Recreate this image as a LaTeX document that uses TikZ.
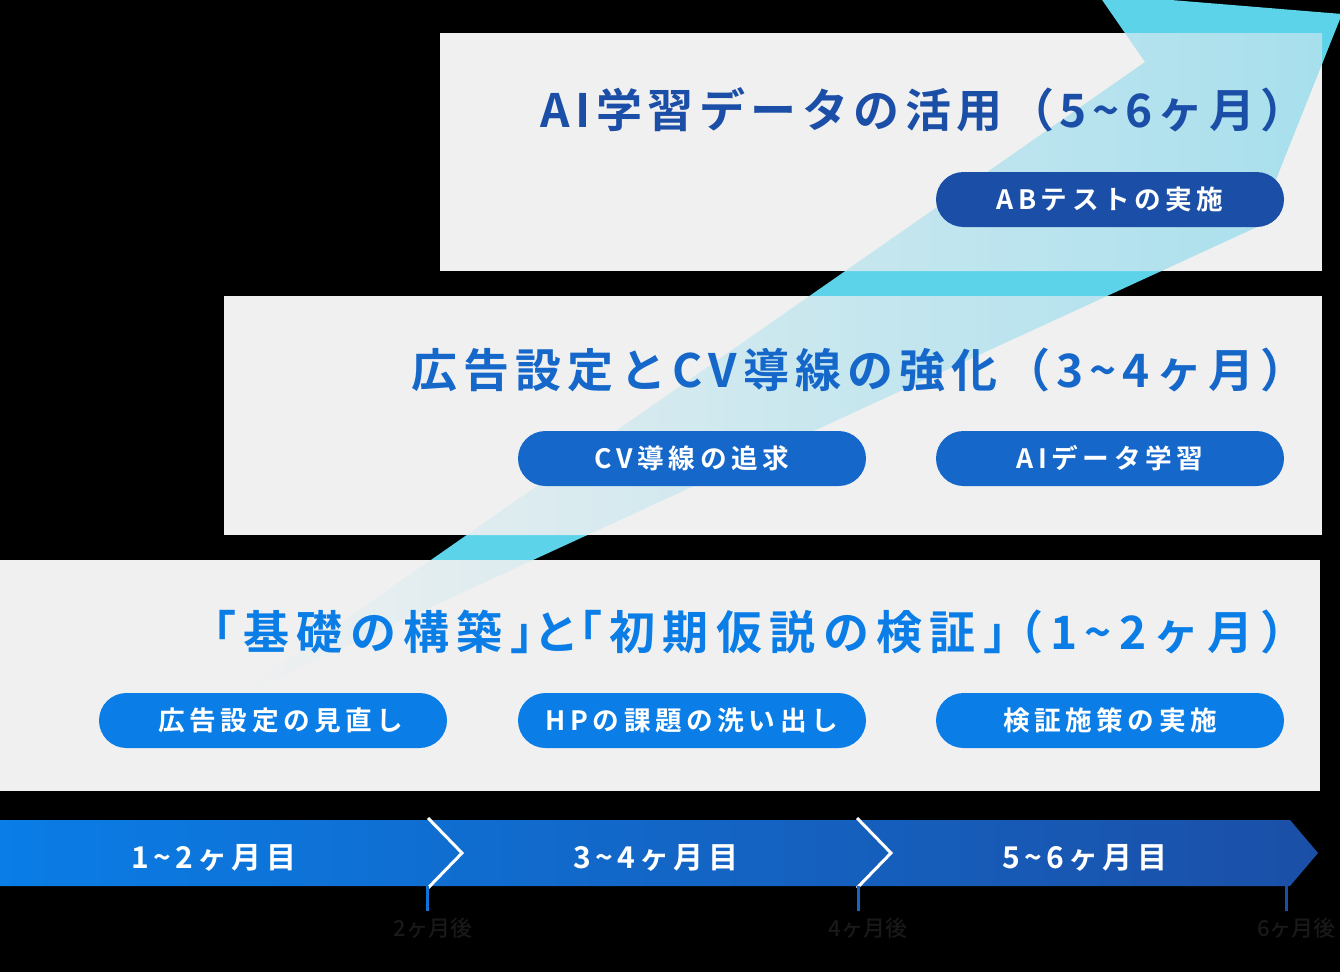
\documentclass[tikz,border=0pt]{standalone}
\usepackage{fontspec}
\setmainfont{Noto Sans CJK JP}
\newfontfamily\jpmed{Noto Sans CJK JP Medium}
\newfontfamily\jpbold{Noto Sans CJK JP Bold}
\definecolor{panel}{HTML}{F0F0F0}
\definecolor{cyanA}{HTML}{5CD3E9}
\definecolor{cyanL}{HTML}{A6DFED}
\definecolor{cyanM}{HTML}{C4E8EF}
\definecolor{blueD}{HTML}{1B4FA7}
\definecolor{blueM}{HTML}{1567CA}
\definecolor{blueB}{HTML}{0A7DE6}
\definecolor{labeldark}{HTML}{191919}
\newcommand{\tld}{\textasciitilde}
\tikzset{
  panelbox/.style={fill=panel},
  title/.style={anchor=east, inner sep=0pt, font=\jpbold\fontsize{34.5pt}{40pt}\selectfont\addfontfeatures{LetterSpace=#1}},
  pill/.style={rounded corners=20.6pt, minimum width=261pt, minimum height=41.25pt, inner sep=0pt, text=white,
    font=\jpbold\fontsize{20pt}{24pt}\selectfont\addfontfeatures{LetterSpace=17}},
  month/.style={text=white, inner sep=0pt, font=\jpbold\fontsize{22.5pt}{26pt}\selectfont\addfontfeatures{LetterSpace=14}},
  chev/.style={white, line width=2.25pt},
  tick/.style={line width=2.25pt},
  mark label/.style={text=labeldark, inner sep=0pt, font=\jpmed\fontsize{16.5pt}{20pt}\selectfont}
}
\begin{document}
\begin{tikzpicture}[x=0.75pt,y=-0.75pt]
\fill[black] (0,0) rectangle (1340,972);
\useasboundingbox (0,0) rectangle (1340,972);
\clip (0,0) rectangle (1340,972);

% growth arrow, full strength where it shows on the dark ground
\def\arrowpath{(233,698) -- (1145,62) -- (1098,-6) -- (1342,14) -- (1257,227) -- cycle}
\fill[cyanA] \arrowpath;

% three phase panels
\fill[panelbox] (440,33) rectangle (1322,271);
\fill[panelbox] (224,296) rectangle (1322,535);
\fill[panelbox] (0,560) rectangle (1320,791);

% arrow seen through the panels, fading out toward its tail
\begin{scope}
  \clip (440,33) rectangle (1322,271) (224,296) rectangle (1322,535) (0,560) rectangle (1320,791);
  \shade[left color=panel, middle color=cyanM, right color=cyanL] \arrowpath;
\end{scope}

% panel titles
\node[title=12, text=blueD] (t1) at (1307,110) {AI学習データの活用（5\tld 6ヶ月）};
\node[title=13.5, text=blueM] (t2) at (1307,370) {広告設定とCV導線の強化（3\tld 4ヶ月）};
\node[title=16, text=blueB] (t3) at (1307,632) {「基礎の構築」\kern-17.25ptと\kern-17.25pt「初期仮説の検証」\kern-24pt（1\tld 2ヶ月）};

% task pills
\node[pill, fill=blueD] (p11) at (1110,199.5) {ABテストの実施};
\node[pill, fill=blueM] (p21) at (692,458.5) {CV導線の追求};
\node[pill, fill=blueM] (p22) at (1110,458.5) {AIデータ学習};
\node[pill, fill=blueB] (p31) at (273,720.5) {\kern12pt 広告設定の見直し};
\node[pill, fill=blueB] (p32) at (692,720.5) {HPの課題の洗い出し};
\node[pill, fill=blueB] (p33) at (1110,720.5) {検証施策の実施};

% timeline bar
\shade[left color=blueB, right color=blueD] (0,820) -- (1290,820) -- (1318,853) -- (1290,886) -- (0,886) -- cycle;
\draw[chev] (428,818) -- (462,853) -- (428,888);
\draw[chev] (857,818) -- (891,853) -- (857,888);
\node[month] (m1) at (214,858) {1\tld 2ヶ月目};
\node[month] (m2) at (656,858) {3\tld 4ヶ月目};
\node[month] (m3) at (1085,858) {5\tld 6ヶ月目};

% milestone ticks and their labels
\coordinate (k1) at (427,886);
\coordinate (k2) at (858,886);
\coordinate (k3) at (1286,886);
\node[mark label] (l1) at (433,928) {2ヶ月後};
\node[mark label] (l2) at (868,928) {4ヶ月後};
\node[mark label, anchor=east] (l3) at (1336,928) {6ヶ月後};
\draw[tick, blueB!80!blueD] (k1) -- ++(0,25);
\draw[tick, blueM] (k2) -- ++(0,25);
\draw[tick, blueD] (k3) -- ++(0,25);
\end{tikzpicture}
\end{document}
